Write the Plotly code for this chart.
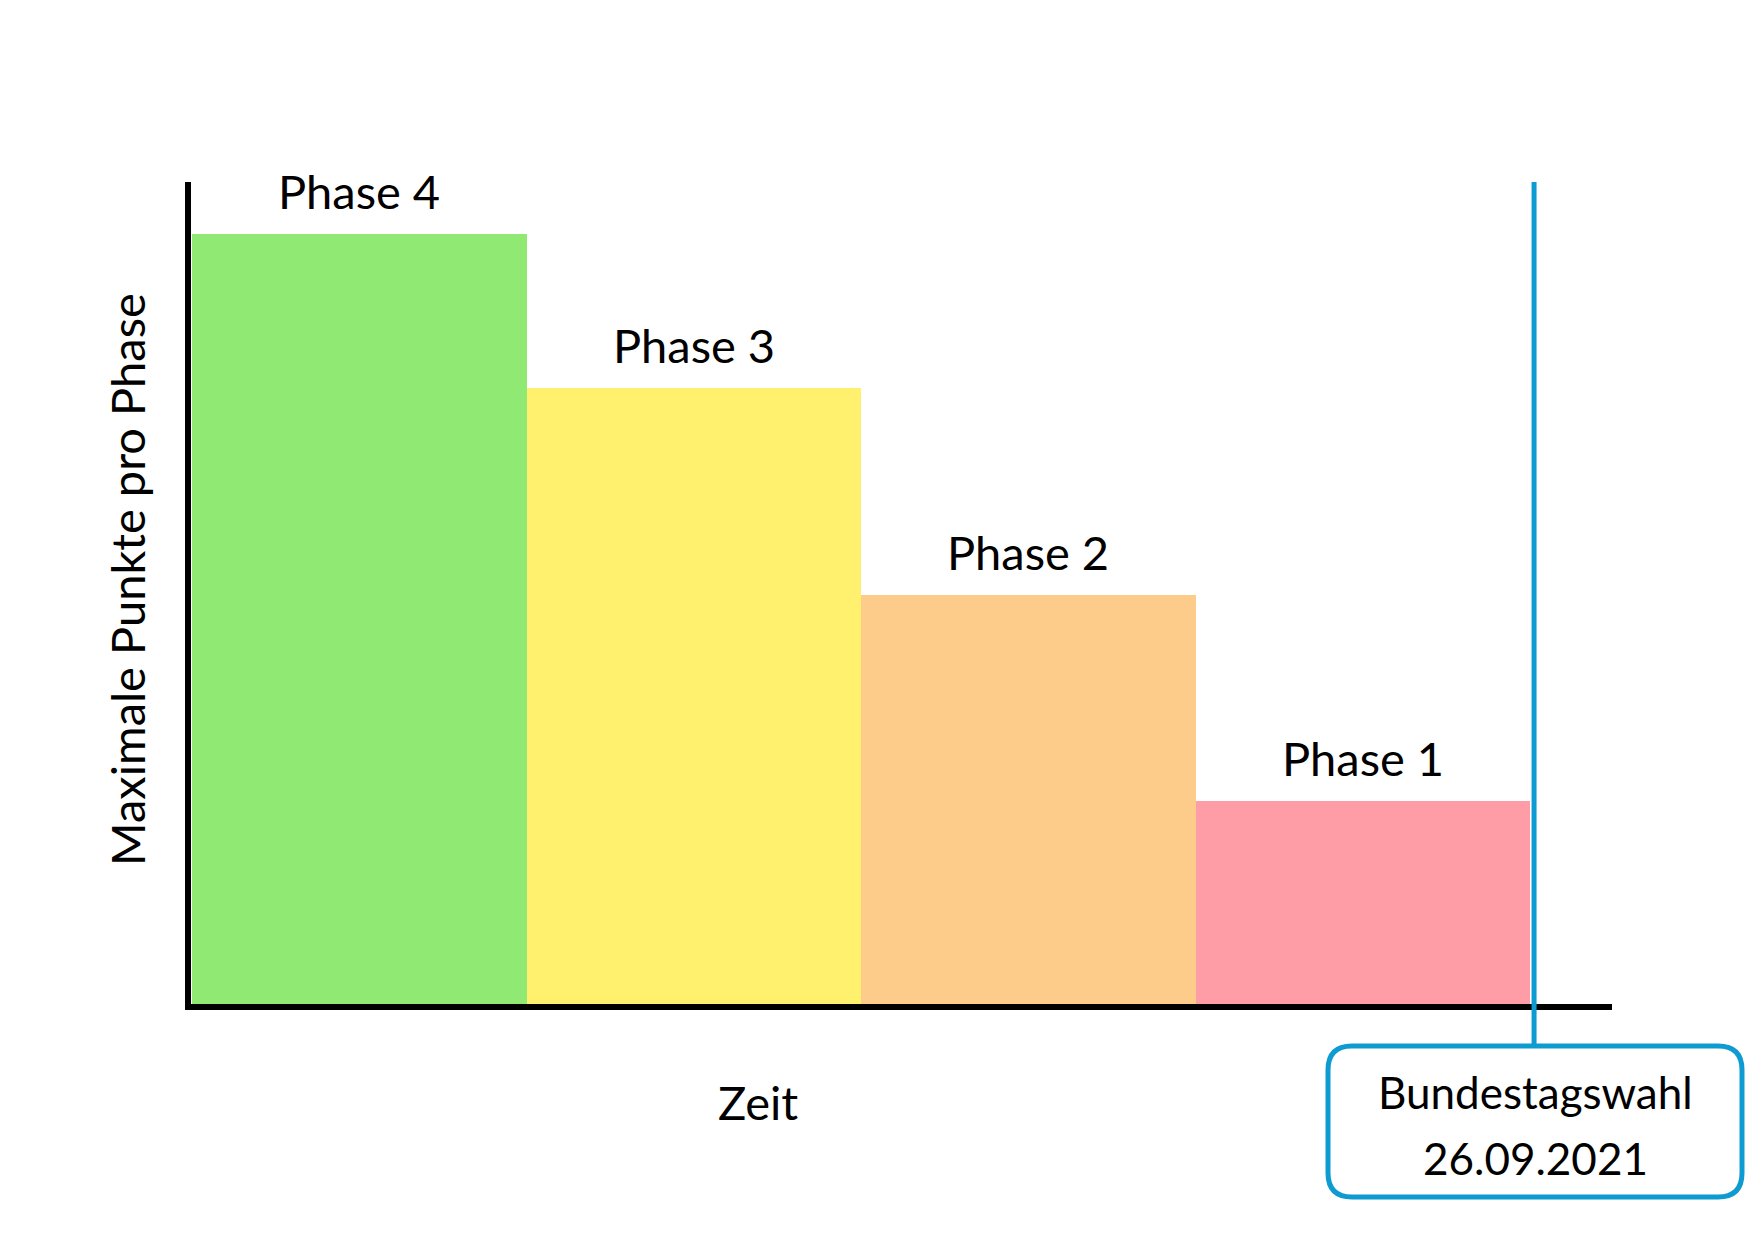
import plotly.graph_objects as go

# Data
phases = ["Phase 4", "Phase 3", "Phase 2", "Phase 1"]
max_points = [3.75, 3.0, 2.0, 1.0]
positions = [0.5, 1.5, 2.5, 3.5]
colors = ["#90E972", "#FFF16E", "#FECC8A", "#FE9DA6"]
x_title = "Zeit"
y_title = "Maximale Punkte pro Phase"
election_x = 4.012
election_lines = ["Bundestagswahl", "26.09.2021"]

W, H = 1749, 1241
L, R, T, B = 188, 137, 182, 234
pw, ph = W - L - R, H - T - B

def px(x):
    return (x - L) / pw

def py(y):
    return (H - B - y) / ph

FONT = "Source Sans Pro, Lato, Open Sans, sans-serif"
BLUE = "#0E9BD1"

fig = go.Figure()
fig.add_trace(go.Bar(
    x=positions, y=max_points, width=1.0,
    marker=dict(color=colors, line=dict(width=0)),
    hoverinfo="skip", showlegend=False,
))

annotations = []
for xp, v, name in zip(positions, max_points, phases):
    annotations.append(dict(
        x=xp, y=v, xref="x", yref="y", text=name, showarrow=False,
        yanchor="bottom", yshift=13, font=dict(size=47, color="black", family=FONT),
    ))

annotations.append(dict(
    x=px(758), y=py(1102), xref="paper", yref="paper", text=x_title,
    showarrow=False, xanchor="center", yanchor="middle",
    font=dict(size=47, color="black", family=FONT),
))
annotations.append(dict(
    x=px(127), y=py(580), xref="paper", yref="paper", text=y_title,
    showarrow=False, xanchor="center", yanchor="middle", textangle=-90,
    font=dict(size=47, color="black", family=FONT),
))

# Box geometry (paper coords)
bx0, bx1, by_top, by_bot = px(1328), px(1742), py(1046), py(1197)
rx, ry = 24 / pw, 24 / ph
path = (
    f"M {bx0+rx},{by_top} L {bx1-rx},{by_top} Q {bx1},{by_top} {bx1},{by_top-ry} "
    f"L {bx1},{by_bot+ry} Q {bx1},{by_bot} {bx1-rx},{by_bot} "
    f"L {bx0+rx},{by_bot} Q {bx0},{by_bot} {bx0},{by_bot+ry} "
    f"L {bx0},{by_top-ry} Q {bx0},{by_top} {bx0+rx},{by_top} Z"
)

for txt, ypix in zip(election_lines, [1092, 1158]):
    annotations.append(dict(
        x=(bx0 + bx1) / 2, y=py(ypix), xref="paper", yref="paper",
        text=txt, showarrow=False, xanchor="center", yanchor="middle",
        font=dict(size=44, color="black", family=FONT),
    ))

shapes = [
    # axes
    dict(type="line", xref="paper", yref="paper", x0=0, x1=0, y0=-3 / ph, y1=1,
         line=dict(color="black", width=6)),
    dict(type="line", xref="paper", yref="paper", x0=-3 / pw, x1=1, y0=0, y1=0,
         line=dict(color="black", width=6)),
    # election marker
    dict(type="line", xref="x", yref="paper", x0=election_x, x1=election_x,
         y0=1.0, y1=by_top, line=dict(color=BLUE, width=5)),
    dict(type="path", xref="paper", yref="paper", path=path,
         line=dict(color=BLUE, width=5), fillcolor="white"),
]

fig.update_layout(
    width=W, height=H,
    margin=dict(l=L, r=R, t=T, b=B, pad=0),
    paper_bgcolor="white", plot_bgcolor="white",
    xaxis=dict(range=[-0.012, 4.245], showgrid=False, zeroline=False,
               showticklabels=False, ticks="", showline=False, fixedrange=True),
    yaxis=dict(range=[0, 4.0], showgrid=False, zeroline=False,
               showticklabels=False, ticks="", showline=False, fixedrange=True),
    annotations=annotations,
    shapes=shapes,
    bargap=0,
)

fig.write_html("out.html", config={"displayModeBar": False})
